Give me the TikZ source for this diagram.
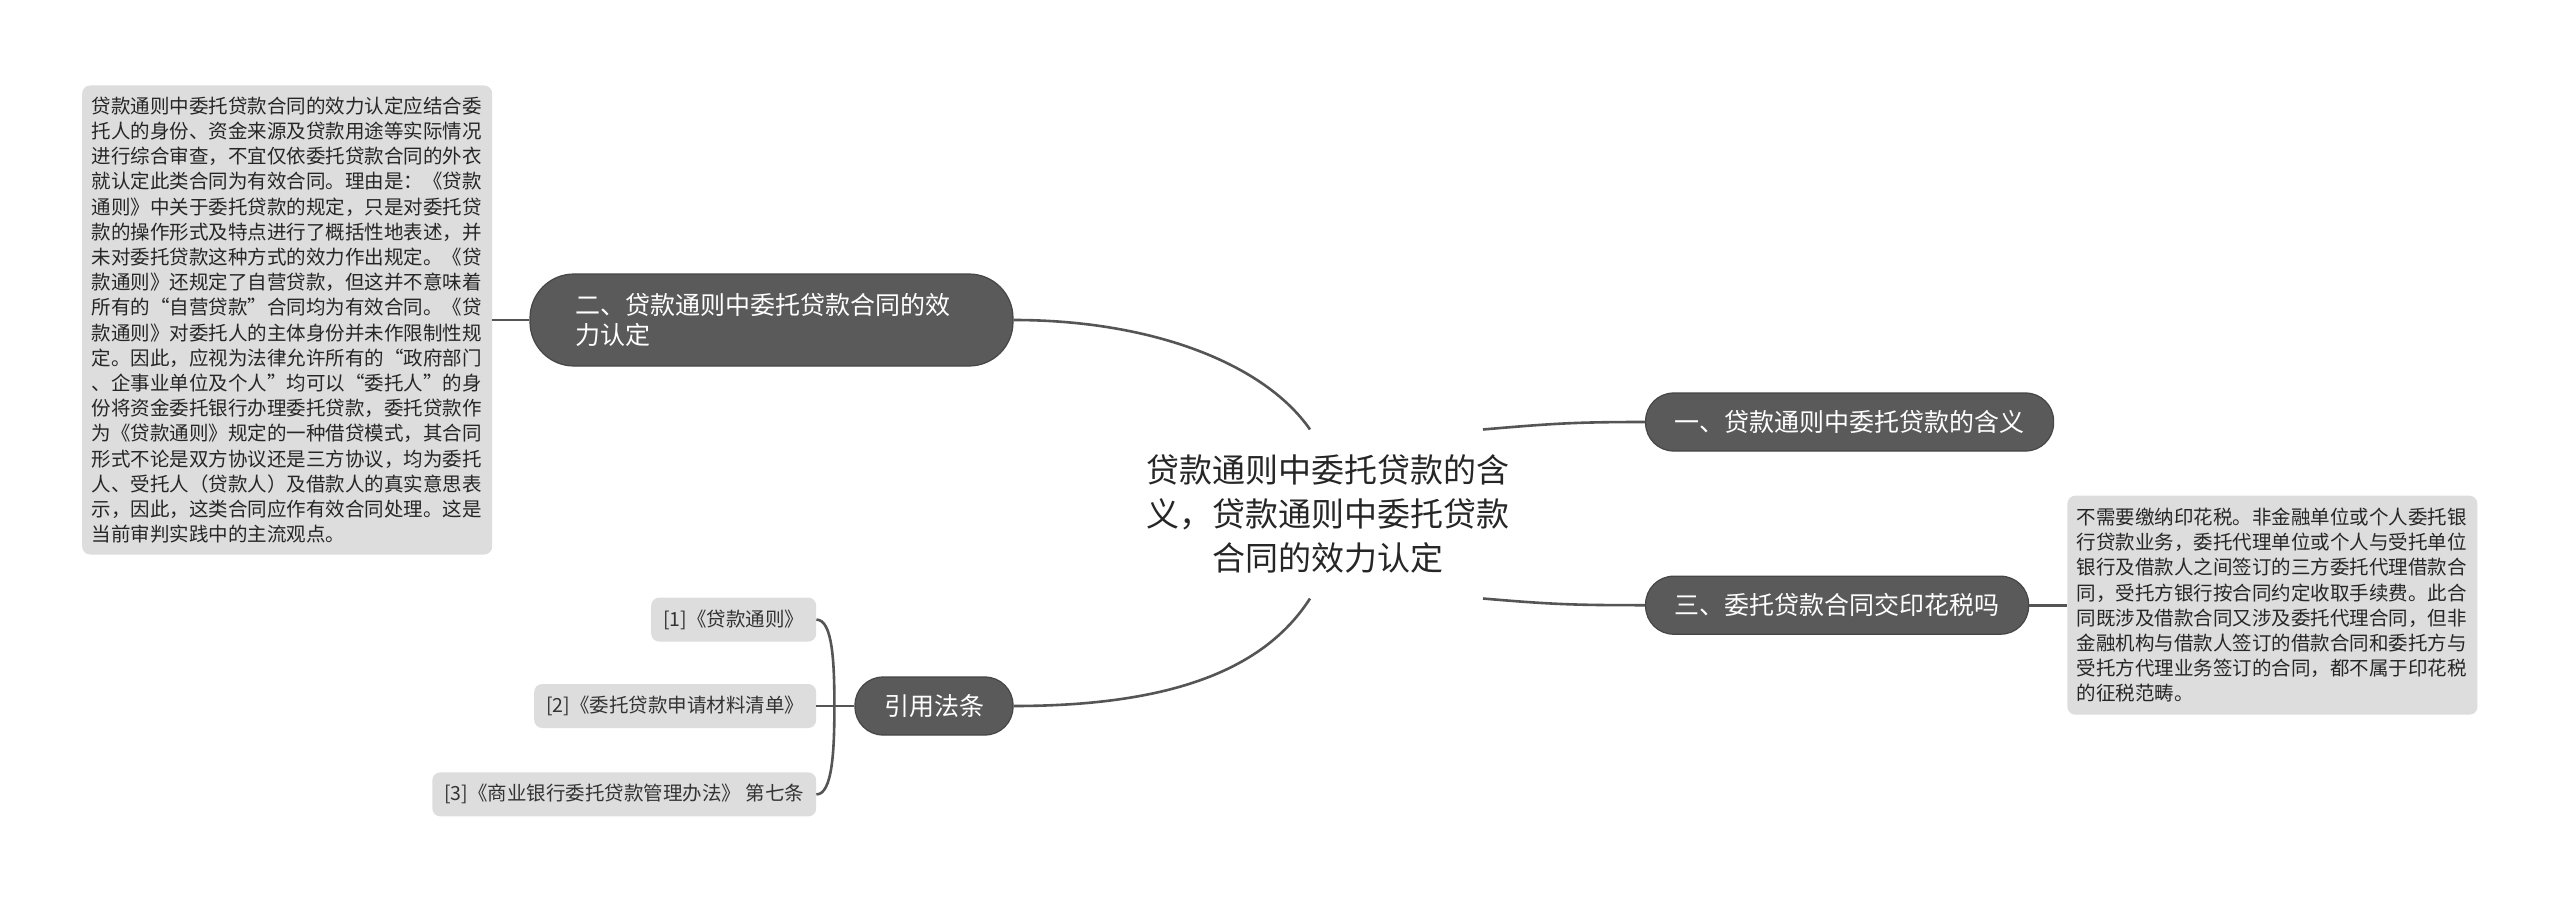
\documentclass[tikz,border=0pt]{standalone}
\usepackage{fontspec}
\newfontfamily\zhfont{Noto Sans CJK SC}
\usetikzlibrary{positioning, calc}

\definecolor{nodeDark}{HTML}{5A5A5A}
\definecolor{nodeEdge}{HTML}{464646}
\definecolor{boxLight}{HTML}{DDDDDD}
\definecolor{linkGray}{HTML}{555555}

\begin{document}
\begin{tikzpicture}[
        x=1pt, y=1pt,
        rootNode/.style={
            font=\zhfont\fontsize{33}{44}\selectfont, text=black!85,
            align=center, inner xsep=0pt, inner ysep=25pt
        },
        branchNode/.style={
            rectangle, rounded corners=28pt, draw=nodeEdge, line width=1.2pt,
            fill=nodeDark, text=white, font=\zhfont\fontsize{25}{30}\selectfont,
            minimum height=58pt, inner xsep=29pt, inner ysep=0pt
        },
        noteBox/.style={
            rectangle, rounded corners=8pt, fill=boxLight, text=black!85,
            font=\zhfont\fontsize{19.5}{25.2}\selectfont, text width=391pt,
            align=left, inner xsep=9.5pt
        },
        refBox/.style={
            rectangle, rounded corners=8pt, fill=boxLight, text=black!80,
            font=\zhfont\fontsize{19.5}{24}\selectfont, minimum height=44pt,
            inner xsep=12pt, inner ysep=0pt
        },
        link/.style={draw=linkGray, line width=2.6pt}
    ]
        \fill [white] (0,0) rectangle (2560,-899);
        \useasboundingbox (0,0) rectangle (2560,-899);

        % Central topic
        \node (root) [rootNode] at (1328,-514) {贷款通则中委托贷款的含\\义，贷款通则中委托贷款\\合同的效力认定};

        % Main branches
        \node (sec1) [branchNode, anchor=west] at (1645,-422) {一、贷款通则中委托贷款的含义};
        \node (sec3) [branchNode, below=124pt of sec1.south west, anchor=north west] {三、委托贷款合同交印花税吗};
        \node (sec2) [branchNode, rounded corners=44pt, minimum height=92pt, text width=392pt,
            align=left, inner xsep=45.5pt] at (771.5,-320) {二、贷款通则中委托贷款合同的效\\力认定};
        \node (cite) [branchNode] at (934,-706) {引用法条};

        % Detail notes
        \node (note2) [noteBox, left=37pt of sec2, minimum height=469pt] {
            贷款通则中委托贷款合同的效力认定应结合委\\
            托人的身份、资金来源及贷款用途等实际情况\\
            进行综合审查，不宜仅依委托贷款合同的外衣\\
            就认定此类合同为有效合同。理由是：《贷款\\
            通则》中关于委托贷款的规定，只是对委托贷\\
            款的操作形式及特点进行了概括性地表述，并\\
            未对委托贷款这种方式的效力作出规定。《贷\\
            款通则》还规定了自营贷款，但这并不意味着\\
            所有的“自营贷款”合同均为有效合同。《贷\\
            款通则》对委托人的主体身份并未作限制性规\\
            定。因此，应视为法律允许所有的“政府部门\\
            、企事业单位及个人”均可以“委托人”的身\\
            份将资金委托银行办理委托贷款，委托贷款作\\
            为《贷款通则》规定的一种借贷模式，其合同\\
            形式不论是双方协议还是三方协议，均为委托\\
            人、受托人（贷款人）及借款人的真实意思表\\
            示，因此，这类合同应作有效合同处理。这是\\
            当前审判实践中的主流观点。
        };
        \node (note3) [noteBox, right=38pt of sec3, minimum height=219pt] {
            不需要缴纳印花税。非金融单位或个人委托银\\
            行贷款业务，委托代理单位或个人与受托单位\\
            银行及借款人之间签订的三方委托代理借款合\\
            同，受托方银行按合同约定收取手续费。此合\\
            同既涉及借款合同又涉及委托代理合同，但非\\
            金融机构与借款人签订的借款合同和委托方与\\
            受托方代理业务签订的合同，都不属于印花税\\
            的征税范畴。
        };

        % Cited laws
        \node (ref2) [refBox, left=38pt of cite] {[2]《委托贷款申请材料清单》};
        \node (ref1) [refBox, above left=42pt and 0pt of ref2.north east] {[1]《贷款通则》};
        \node (ref3) [refBox, below left=44pt and 0pt of ref2.south east] {[3]《商业银行委托贷款管理办法》 第七条};
        \coordinate (fork) at ($(ref2.east)+(18,0)$);

        \draw [link] ($(root.north)+(-18,0)$) .. controls +(-45,65) and +(140,0) .. (sec2.east);
        \draw [link] ($(root.north)+(155,0)$) .. controls +(70,6) and +(-70,0) .. (sec1.west);
        \draw [link] ($(root.south)+(155,0)$) .. controls +(70,-6) and +(-70,0) .. (sec3.west);
        \draw [link] ($(root.south)+(-18,0)$) .. controls +(-45,-70) and +(160,0) .. (cite.east);
        \draw [link] (sec2.west) -- (note2.east);
        \draw [link] (sec3.east) -- (note3.west);
        \draw [link] (cite.west) -- (ref2.east);
        \draw [link] (ref1.east) .. controls +(16,0) and +(0,45) .. (fork);
        \draw [link] (ref3.east) .. controls +(16,0) and +(0,-45) .. (fork);
    \end{tikzpicture}
\end{document}
